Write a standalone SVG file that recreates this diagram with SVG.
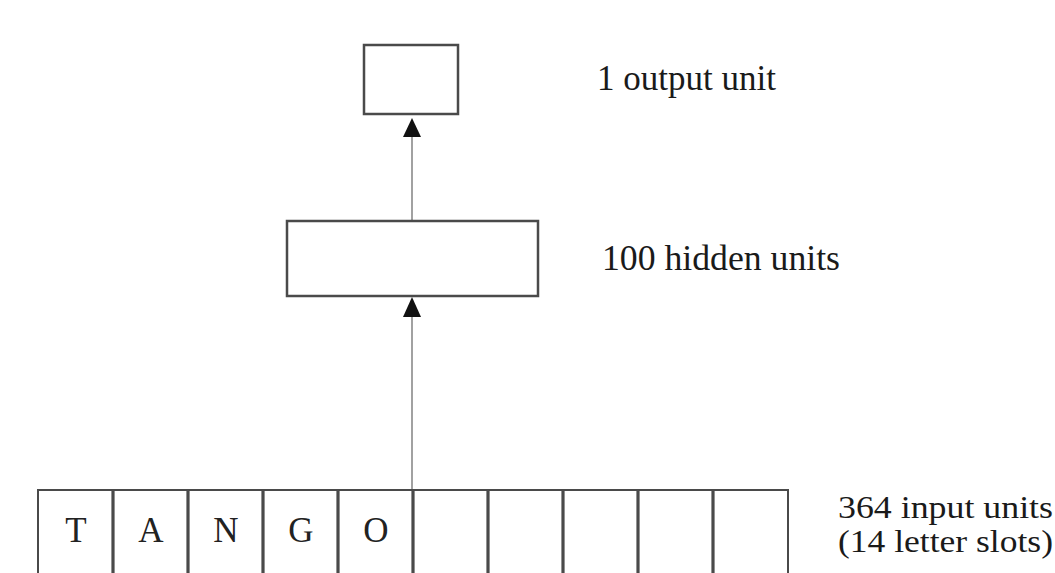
<svg xmlns="http://www.w3.org/2000/svg" width="1055" height="573" viewBox="0 0 1055 573">
<style>
.box{fill:#fff;stroke:#4a4a4a;stroke-width:2.5}
.lbl{font-family:"Liberation Serif","Times New Roman",serif;font-size:35px;fill:#1a1a1a}
.lbl2{font-family:"Liberation Serif","Times New Roman",serif;font-size:31px;fill:#1a1a1a}
.let{font-family:"Liberation Serif","Times New Roman",serif;font-size:35px;fill:#222;text-anchor:middle}
.conn{stroke:#8a8a8a;stroke-width:1.6;fill:none}
.div{stroke:#4a4a4a;stroke-width:3.2}
</style>
<rect width="1055" height="573" fill="#fff"/>
<g id="connectors">
<line class="conn" x1="412" y1="221" x2="412" y2="130"/>
<path d="M412,118 L403,137 L421,137 z" fill="#111"/>
<line class="conn" x1="412" y1="489" x2="412" y2="310"/>
<path d="M412,297 L403,317 L421,317 z" fill="#111"/>
</g>
<g id="output">
<rect class="box" x="364" y="45" width="94" height="69"/>
<text class="lbl" x="597" y="90">1 output unit</text>
</g>
<g id="hidden">
<rect class="box" x="287" y="221" width="251" height="75"/>
<text class="lbl" x="602" y="270" textLength="238" lengthAdjust="spacingAndGlyphs">100 hidden units</text>
</g>
<g id="input">
<path d="M38,580 L38,490 L788,490 L788,580" fill="none" stroke="#4a4a4a" stroke-width="2"/>
<line class="div" x1="113" y1="490" x2="113" y2="580"/>
<line class="div" x1="188" y1="490" x2="188" y2="580"/>
<line class="div" x1="263" y1="490" x2="263" y2="580"/>
<line class="div" x1="338" y1="490" x2="338" y2="580"/>
<line class="div" x1="413" y1="490" x2="413" y2="580"/>
<line class="div" x1="488" y1="490" x2="488" y2="580"/>
<line class="div" x1="563" y1="490" x2="563" y2="580"/>
<line class="div" x1="638" y1="490" x2="638" y2="580"/>
<line class="div" x1="713" y1="490" x2="713" y2="580"/>
<text class="let" x="76" y="542">T</text>
<text class="let" x="151" y="542">A</text>
<text class="let" x="226" y="542">N</text>
<text class="let" x="301" y="542">G</text>
<text class="let" x="376" y="542">O</text>
<text class="lbl2" x="838" y="518" textLength="215" lengthAdjust="spacingAndGlyphs">364 input units</text>
<text class="lbl2" x="838" y="552" textLength="215" lengthAdjust="spacingAndGlyphs">(14 letter slots)</text>
</g>
</svg>
